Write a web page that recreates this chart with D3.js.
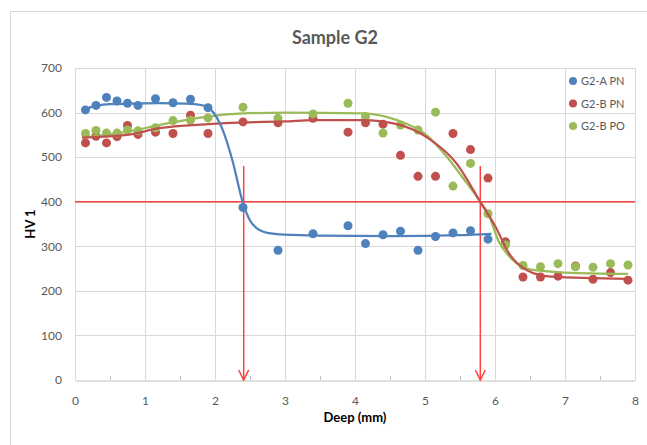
<!DOCTYPE html>
<html>
<head>
<meta charset="utf-8">
<script src="https://cdn.jsdelivr.net/npm/d3@7"></script>
<style>
  body { margin: 0; background: #fff; }
  text { font-family: Lato, "Open Sans", sans-serif; }
</style>
</head>
<body>
<div id="chart"></div>
<script>
// measured points
const depthA = [0.15, 0.3, 0.45, 0.6, 0.75, 0.9, 1.15, 1.4, 1.65, 1.9, 2.4, 2.9, 3.4, 3.9, 4.15, 4.4, 4.65, 4.9, 5.15, 5.4, 5.65, 5.9];
const depthB = [0.15, 0.3, 0.45, 0.6, 0.75, 0.9, 1.15, 1.4, 1.65, 1.9, 2.4, 2.9, 3.4, 3.9, 4.15, 4.4, 4.65, 4.9, 5.15, 5.4, 5.65, 5.9,
                6.15, 6.4, 6.65, 6.9, 7.15, 7.4, 7.65, 7.9];
const hvAPN = [606, 616, 634, 626, 621, 616, 631, 622, 630, 611, 387, 291, 328, 346, 306, 326, 334, 291, 322, 330, 335, 316];
const hvBPN = [532, 547, 532, 546, 571, 551, 556, 553, 594, 553, 579, 577, 587, 556, 577, 574, 504, 457, 457, 553, 517, 453,
               310, 231, 231, 233, 256, 226, 241, 224];
const hvBPO = [553, 560, 554, 554, 561, 559, 566, 582, 583, 588, 612, 587, 597, 621, 591, 554, 572, 561, 601, 435, 486, 373,
               303, 257, 254, 261, 254, 253, 261, 258];

// fitted curves
const fitAx = [0.1, 0.3, 0.5, 0.8, 1.2, 1.6, 1.8, 1.95, 2.1, 2.25, 2.4, 2.5, 2.6, 2.75, 3.0, 3.5, 4.5, 5.5, 5.95];
const fitAy = [606, 615, 619, 620, 621, 620, 617, 605, 565, 492, 397, 358, 340, 330, 326, 324, 323, 325, 328];
const fitBPNx = [0.1, 0.75, 1.2, 1.9, 2.4, 3.0, 3.4, 4.1, 4.6, 5.05, 5.45, 5.8, 6.0, 6.2, 6.45, 6.8, 7.9];
const fitBPNy = [544, 550, 565, 574, 578, 580, 583, 583, 574, 542, 486, 397, 346, 284, 247, 232, 227];
const fitBPOx = [0.1, 0.75, 1.2, 1.9, 2.4, 3.0, 4.1, 4.6, 5.0, 5.3, 5.6, 5.8, 5.9, 6.05, 6.25, 6.5, 7.0, 7.9];
const fitBPOy = [544, 557, 572, 591, 598, 600, 598, 583, 552, 503, 441, 398, 374, 312, 270, 248, 241, 238];

// reference level and marked depths
const refHV = 400;
const arrowDepths = [2.41, 5.79];
const arrowTop = 480;

const seriesNames = ["G2-A PN", "G2-B PN", "G2-B PO"];
const colors = ["#4f81bd", "#c0504d", "#9bbb59"];
const xTicks = [0, 1, 2, 3, 4, 5, 6, 7, 8];
const yTicks = [0, 100, 200, 300, 400, 500, 600, 700];

const W = 647, H = 445;
const plot = { left: 75, right: 635, top: 68, bottom: 380 };

const svg = d3.select("#chart").append("svg")
    .attr("width", W)
    .attr("height", H);

// chart area border
svg.append("rect")
    .attr("x", 10.5).attr("y", 11.5)
    .attr("width", 700).attr("height", 500)
    .attr("fill", "#fff")
    .attr("stroke", "#d9d9d9");

const x = d3.scaleLinear().domain([0, 8]).range([plot.left, plot.right]);
const y = d3.scaleLinear().domain([0, 700]).range([plot.bottom, plot.top]);

// gridlines
svg.append("g").selectAll("line").data(yTicks.slice(1)).enter().append("line")
    .attr("x1", plot.left).attr("x2", plot.right)
    .attr("y1", d => Math.round(y(d)) + 0.5).attr("y2", d => Math.round(y(d)) + 0.5)
    .attr("stroke", "#d9d9d9");
svg.append("g").selectAll("line").data(xTicks).enter().append("line")
    .attr("x1", d => Math.round(x(d)) + 0.5).attr("x2", d => Math.round(x(d)) + 0.5)
    .attr("y1", plot.top).attr("y2", plot.bottom)
    .attr("stroke", "#d9d9d9");

// x axis
const xAxis = svg.append("g")
    .attr("transform", `translate(0,${plot.bottom + 0.5})`)
    .call(d3.axisBottom(x).tickValues(xTicks).tickFormat(d3.format("d")).tickSize(0).tickPadding(16));
xAxis.select(".domain").attr("stroke", "#bfbfbf");
xAxis.selectAll("text").attr("fill", "#595959").style("font-size", "12px");

// minor ticks at half mm
svg.append("g").selectAll("line").data(d3.range(0.5, 8, 1)).enter().append("line")
    .attr("x1", d => Math.round(x(d)) + 0.5).attr("x2", d => Math.round(x(d)) + 0.5)
    .attr("y1", plot.bottom).attr("y2", plot.bottom - 4)
    .attr("stroke", "#bfbfbf");

// y axis
const yAxis = svg.append("g")
    .attr("transform", `translate(${plot.left},0)`)
    .call(d3.axisLeft(y).tickValues(yTicks).tickSize(0).tickPadding(13));
yAxis.select(".domain").remove();
yAxis.selectAll("text").attr("fill", "#595959").style("font-size", "12px");

// reference lines
svg.append("line")
    .attr("x1", plot.left).attr("x2", plot.right)
    .attr("y1", y(refHV)).attr("y2", y(refHV))
    .attr("stroke", "#ff4040").attr("stroke-width", 1.5);

svg.selectAll(".arrow").data(arrowDepths).enter().append("line")
    .attr("class", "arrow")
    .attr("x1", d => x(d)).attr("x2", d => x(d))
    .attr("y1", y(arrowTop)).attr("y2", y(0))
    .attr("stroke", "#ff4040").attr("stroke-width", 1.5);
svg.selectAll(".arrowhead").data(arrowDepths).enter().append("path")
    .attr("class", "arrowhead")
    .attr("d", d => `M${x(d) - 5},${y(0) - 10} L${x(d)},${y(0)} L${x(d) + 5},${y(0) - 10}`)
    .attr("fill", "none")
    .attr("stroke", "#ff4040").attr("stroke-width", 1.5);

// points
const pointSets = [
    { xs: depthA, ys: hvAPN },
    { xs: depthB, ys: hvBPN },
    { xs: depthB, ys: hvBPO }
];
pointSets.forEach((s, i) => {
    svg.append("g").selectAll("circle").data(s.ys).enter().append("circle")
        .attr("cx", (d, j) => x(s.xs[j]))
        .attr("cy", d => y(d))
        .attr("r", 4.5)
        .attr("fill", colors[i]);
});

// fitted curves
const line = d3.line().x(d => x(d[0])).y(d => y(d[1])).curve(d3.curveMonotoneX);
const fits = [
    d3.zip(fitAx, fitAy),
    d3.zip(fitBPNx, fitBPNy),
    d3.zip(fitBPOx, fitBPOy)
];
[2, 1, 0].forEach(i => {
    svg.append("path")
        .datum(fits[i])
        .attr("d", line)
        .attr("fill", "none")
        .attr("stroke", colors[i])
        .attr("stroke-width", 2.25);
});

// title
svg.append("text")
    .attr("x", 335).attr("y", 44)
    .attr("text-anchor", "middle")
    .attr("fill", "#595959")
    .style("font-size", "18px").style("font-weight", "bold")
    .text("Sample G2");

// axis titles
svg.append("text")
    .attr("x", 355).attr("y", 422)
    .attr("text-anchor", "middle")
    .attr("fill", "#000")
    .style("font-size", "13px").style("font-weight", "bold")
    .text("Deep (mm)");
svg.append("text")
    .attr("transform", "translate(35,224) rotate(-90)")
    .attr("text-anchor", "middle")
    .attr("fill", "#000")
    .style("font-size", "13px").style("font-weight", "bold")
    .text("HV 1");

// legend
const legend = svg.append("g").attr("transform", "translate(573,81)");
seriesNames.forEach((name, i) => {
    const g = legend.append("g").attr("transform", `translate(0,${i * 22.5})`);
    g.append("circle").attr("r", 4).attr("fill", colors[i]);
    g.append("text")
        .attr("x", 8).attr("y", 4)
        .attr("fill", "#595959")
        .style("font-size", "11px")
        .text(name);
});
</script>
</body>
</html>
